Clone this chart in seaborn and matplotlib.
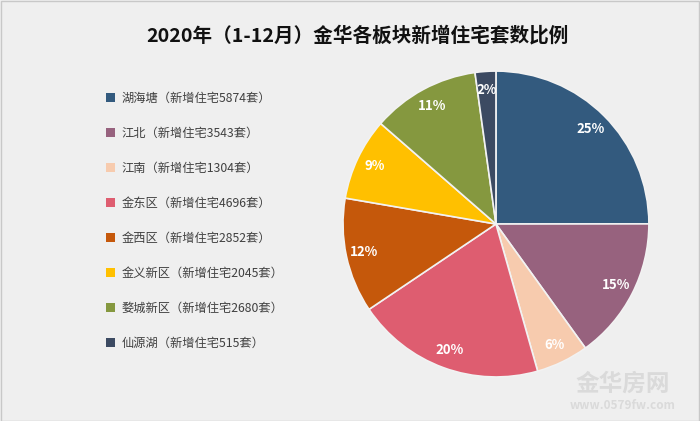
import matplotlib
matplotlib.use('Agg')
import matplotlib.pyplot as plt
import matplotlib.patches as mpatches
import seaborn as sns

# 数据
bankuai = ['湖海塘', '江北', '江南', '金东区', '金西区', '金义新区', '婺城新区', '仙源湖']
taoshu = [5874, 3543, 1304, 4696, 2852, 2045, 2680, 515]
yanse = ['#335a7e', '#97627e', '#f7cbae', '#de5d70', '#c5580b', '#ffc000', '#85983f', '#3c4a62']
titulo = '2020年（1-12月）金华各板块新增住宅套数比例'

sns.set_theme(style='white')
plt.rcParams['font.family'] = ['Noto Sans CJK SC', 'DejaVu Sans']

fig = plt.figure(figsize=(7, 4.21), dpi=100)
fig.patch.set_facecolor('#efefef')
# moldura cinza
fig.add_artist(mpatches.Rectangle((0.001, 0.001), 0.998, 0.997, transform=fig.transFigure,
                                  fill=False, edgecolor='#c8c8c8', linewidth=1))

fig.text(0.511, 0.915, titulo, ha='center', va='center', fontsize=14.1,
         fontweight='bold', color='#111111')

# pizza
ax = fig.add_axes([0.49, 0.1045, 0.437, 0.7268])
ax.set_facecolor('none')
wedges, _, autotexts = ax.pie(taoshu, colors=yanse, startangle=90, counterclock=False,
                              autopct='%1.0f%%', pctdistance=0.88,
                              wedgeprops=dict(edgecolor='#f2f2f2', linewidth=1.2),
                              textprops=dict(color='white', fontsize=9.5, fontweight='bold'))
ax.set_xlim(-1.0, 1.0)
ax.set_ylim(-1.0, 1.0)
ax.set_aspect('equal')
ax.axis('off')
for w in wedges:
    w.set_clip_on(False)

# legenda
handles = [mpatches.Patch(facecolor=c, edgecolor='none') for c in yanse]
labels = ['{}（新增住宅{}套）'.format(b, t) for b, t in zip(bankuai, taoshu)]
fig.legend(handles, labels, loc='upper left', bbox_to_anchor=(0.145, 0.794),
           frameon=False, fontsize=8.8, labelcolor='#404040',
           handlelength=0.72, handleheight=0.72, handletextpad=0.5,
           labelspacing=1.8, borderaxespad=0)

# marca d'água
fig.text(0.89, 0.088, '金华房网', ha='center', va='center', fontsize=17,
         color='#dadada', fontweight='bold')
fig.text(0.89, 0.037, 'www.0579fw.com', ha='center', va='center', fontsize=8.5,
         color='#dadada', fontweight='bold')

fig.savefig('out.png', dpi=100, facecolor=fig.get_facecolor())
